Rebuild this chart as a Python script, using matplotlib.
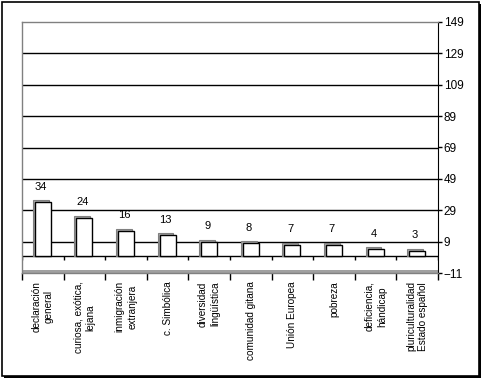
import matplotlib.pyplot as plt
import numpy as np
from matplotlib.patches import Rectangle

# categories and counts
categories = [
    "declaración\ngeneral",
    "curiosa, exótica,\nlejana",
    "inmigración\nextranjera",
    "c. Simbólica",
    "diversidad\nlingüística",
    "comunidad gitana",
    "Unión Europea",
    "pobreza",
    "deficiencia,\nhándicap",
    "pluriculturalidad\nEstado español",
]
values = [34, 24, 16, 13, 9, 8, 7, 7, 4, 3]
y_ticks = [-11, 9, 29, 49, 69, 89, 109, 129, 149]

plt.rcParams['font.family'] = ['Liberation Sans', 'DejaVu Sans']

fig = plt.figure(figsize=(4.83, 3.80), dpi=100)
W, H = 483, 380
ax = fig.add_axes([22 / W, (H - 273) / H, (438 - 22) / W, (273 - 22) / H])

n = len(categories)
x = np.arange(n) + 0.5
vals = np.array(values)
bw = 0.38

# gridlines
for t in y_ticks[1:-1]:
    ax.axhline(t, color='black', lw=1, zorder=1)

# floor
ax.add_patch(Rectangle((0, -10.2), n, 10.2, facecolor='white', edgecolor='none', zorder=1.5))
ax.add_patch(Rectangle((0, -11), n, 2.2, facecolor='#a0a0a0', edgecolor='none', zorder=1.6))
ax.axhline(0, color='black', lw=1, zorder=2)
ax.vlines(np.arange(n + 1), -2.6, 0, color='black', lw=1, zorder=2)

# bars with a simple 3D shadow
ax.bar(x - 0.05, vals + 1.3, bw, bottom=0, color='#a8a8a8', edgecolor='#808080', lw=0.8, zorder=3)
ax.bar(x, vals, bw, bottom=0, color='white', edgecolor='black', lw=1, zorder=4)

for xi, v in zip(x, values):
    ax.text(xi - 0.05, v + 10, str(v), ha='center', va='center', fontsize=8, zorder=5)

ax.set_xlim(0, n)
ax.set_ylim(-11, 149)

# y axis on the right
ax.yaxis.tick_right()
ax.set_yticks(y_ticks)
ax.tick_params(axis='y', direction='out', length=3, width=1, pad=1, labelsize=8.5)

# x axis: ticks at boundaries, labels at centers
ax.set_xticks(np.arange(n + 1))
ax.set_xticklabels([])
ax.tick_params(axis='x', which='major', direction='out', length=5, width=1)
ax.set_xticks(x, minor=True)
ax.set_xticklabels(categories, minor=True, rotation=90, fontsize=7.2,
                   va='top', ha='center', multialignment='center', linespacing=1.3)
ax.tick_params(axis='x', which='minor', length=0, pad=6)

for side in ['left', 'top']:
    ax.spines[side].set_color('#808080')
    ax.spines[side].set_linewidth(1)
ax.spines['right'].set_color('black')
ax.spines['bottom'].set_color('#808080')
ax.spines['bottom'].set_linewidth(1)

# outer frame with shadow
fig.patches.append(Rectangle((2 / W, 4 / H), (W - 6) / W, (H - 6) / H, transform=fig.transFigure,
                             facecolor='none', edgecolor='black', lw=1.2))
fig.patches.append(Rectangle((4 / W, 2 / H), (W - 6) / W, 2 / H, transform=fig.transFigure,
                             facecolor='black', edgecolor='none'))
fig.patches.append(Rectangle(((W - 4) / W, 2 / H), 2 / W, (H - 6) / H,
                             transform=fig.transFigure, facecolor='black', edgecolor='none'))

fig.savefig("out.png", dpi=100)
